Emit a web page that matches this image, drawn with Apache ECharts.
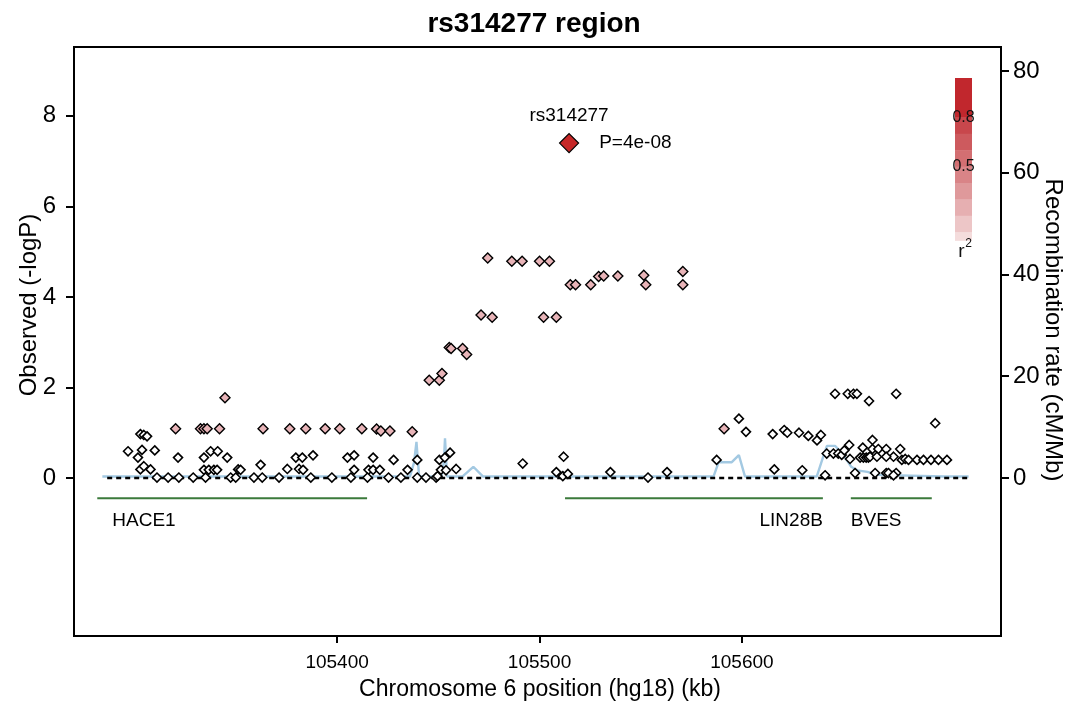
<!DOCTYPE html>
<html>
<head>
<meta charset="utf-8">
<script src="https://cdn.jsdelivr.net/npm/echarts@6/dist/echarts.min.js"></script>
<style>
html,body{margin:0;padding:0;background:#fff;}
#chart{width:1068px;height:704px;}
</style>
</head>
<body>
<div id="chart"></div>
<script>
// ---------------- data ----------------
const chartTitle = 'rs314277 region';
const xTicks = [105400, 105500, 105600];
const yTicks = [0, 2, 4, 6, 8];
const recTicks = [0, 20, 40, 60, 80];

// SNPs with weak LD (r2 < 0.2): [position kb, -log10 P]
const weakSnps = [
  [105296.7,0.59],[105302.8,0.97],[105304.5,0.95],[105306.1,0.92],[105303.6,0.62],[105309.9,0.61],
  [105301.6,0.45],[105321.4,0.45],[105334.2,0.45],[105337.5,0.59],[105341.0,0.59],[105345.7,0.45],
  [105302.8,0.19],[105304.5,0.26],[105307.8,0.19],[105351.1,0.19],[105352.3,0.18],[105362.2,0.29],
  [105334.2,0.18],[105336.6,0.18],[105339.1,0.18],[105340.7,0.18],
  [105311.0,0.01],[105316.5,0.01],[105321.8,0.01],[105328.9,0.01],[105335.0,0.01],[105347.4,0.01],
  [105349.9,0.01],[105358.9,0.01],[105363.0,0.01],[105371.3,0.01],[105375.4,0.20],[105379.6,0.45],
  [105382.8,0.45],[105388.1,0.50],[105381.2,0.20],[105383.2,0.18],[105387.0,0.01],
  [105405.1,0.45],[105408.4,0.50],[105417.8,0.45],[105427.9,0.40],[105439.6,0.40],[105450.5,0.40],
  [105453.2,0.45],[105455.8,0.56],[105408.4,0.18],[105415.5,0.18],[105417.8,0.18],
  [105421.1,0.18],[105434.8,0.18],[105451.3,0.18],[105453.8,0.17],[105458.8,0.20],
  [105397.4,0.01],[105406.8,0.01],[105415.0,0.01],[105425.4,0.01],[105431.5,0.01],[105439.6,0.01],
  [105443.9,0.01],[105448.9,0.01],[105449.6,0.04],
  [105491.7,0.32],[105508.3,0.13],[105511.5,0.04],[105514.0,0.09],[105511.9,0.47],[105535.0,0.13],
  [105553.6,0.01],[105563.0,0.13],
  [105598.5,1.31],[105602.0,1.02],[105615.2,0.97],[105620.9,1.06],[105622.4,1.00],[105628.2,1.00],
  [105632.8,0.93],[105639.0,0.95],[105637.1,0.83],[105646.0,1.86],[105587.5,0.40],[105616.0,0.19],
  [105629.8,0.17],[105641.1,0.06],[105641.9,0.54],[105645.2,0.54],[105647.6,0.54],
  [105652.3,1.86],[105655.1,1.86],[105656.8,1.86],[105662.8,1.70],[105676.2,1.86],[105695.5,1.21],
  [105649.3,0.51],[105650.6,0.61],[105653.0,0.73],[105653.4,0.42],[105655.9,0.11],[105658.4,0.45],
  [105660.0,0.45],[105661.4,0.45],[105662.5,0.45],[105663.3,0.47],[105659.7,0.67],[105664.5,0.84],
  [105664.5,0.64],[105667.4,0.64],[105671.3,0.64],[105674.9,0.47],[105678.2,0.64],[105666.7,0.47],
  [105671.3,0.47],[105679.0,0.40],[105680.7,0.42],[105682.3,0.40],[105686.5,0.40],[105689.7,0.40],
  [105693.4,0.40],[105697.1,0.40],[105701.3,0.40],[105665.8,0.11],[105671.3,0.11],[105672.4,0.11],
  [105676.2,0.11],[105674.9,0.06]
];

// SNPs with modest LD (r2 ~ 0.2-0.3)
const modestSnps = [
  [105344.6,1.77],[105320.2,1.09],[105332.5,1.09],[105334.2,1.09],[105335.8,1.09],[105341.9,1.09],
  [105363.4,1.09],[105376.6,1.09],[105384.5,1.09],[105394.1,1.09],[105401.3,1.09],[105412.2,1.09],
  [105419.5,1.08],[105421.6,1.04],[105426.1,1.04],[105437.1,1.02],
  [105445.5,2.16],[105450.5,2.16],[105451.8,2.31],[105455.4,2.88],[105456.3,2.86],[105462.0,2.86],
  [105464.0,2.73],[105471.1,3.60],[105476.6,3.55],[105502.0,3.55],[105508.3,3.55],
  [105474.4,4.86],[105486.3,4.79],[105491.4,4.79],[105500.0,4.79],[105504.9,4.79],
  [105515.2,4.27],[105517.8,4.27],[105525.3,4.27],[105529.2,4.45],[105531.7,4.46],[105538.7,4.46],
  [105551.5,4.48],[105552.5,4.27],[105570.8,4.56],[105570.8,4.27],[105591.2,1.09]
];

const leadSnpName = 'rs314277';
const leadSnpPos = 105514.6;
const leadSnpP = 4e-8;

// recombination rate (cM/Mb)
const recombPos  = [105284, 105436, 105438, 105439.2, 105440.5, 105451.5, 105452.7, 105453.3, 105454.3,
  105462, 105467.3, 105472, 105586, 105588.5, 105595, 105598.5, 105601.5, 105637, 105640, 105642,
  105646, 105648, 105651, 105654, 105657, 105662, 105667, 105700, 105712];
const recombRate = [0.3, 0.3, 3, 7.1, 0.3, 0.3, 3, 7.8, 0.3,
  0.3, 2.2, 0.3, 0.3, 3.1, 3.1, 4.5, 0.3, 0.3, 4, 6.3,
  6.3, 5.5, 4, 2.2, 1.5, 1.2, 0.6, 0.3, 0.3];

// baseline (-logP = 0)
const baselineRange = [105286.4, 105712.6];

// genes
const geneNames = ['HACE1', 'LIN28B', 'BVES'];
const geneStart = [105281.5, 105512.6, 105653.8];
const geneEnd   = [105414.8, 105640.0, 105693.8];

// r2 legend scale
const r2Labels = ['0.8', '0.5'];
const r2LabelValues = [0.8, 0.5];
const r2Steps = [1.04, 0.8, 0.7, 0.6, 0.5, 0.4, 0.3, 0.2, 0.1, 0.05];
const r2Colors = ['#c1272d', '#c8474c', '#cd5a5e', '#d36f72', '#d98487', '#df999b', '#e6afb1', '#edc6c7', '#f4dcdc'];

// ---------------- layout / style ----------------
const FONT = '"Liberation Sans", Arial, Helvetica, sans-serif';
const GRID = {left: 74, right: 67, top: 47, bottom: 68};
const Y_MIN = -3.49, Y_MAX = 9.52;
const R_MIN = -31.06, R_MAX = 84.7;
const X_MIN = 105270, X_MAX = 105728;
const GENE_Y = -0.45;
const LEAD_Y = -Math.log10(leadSnpP);

const chart = echarts.init(document.getElementById('chart'), null, {renderer: 'canvas'});

const geneSeries = geneNames.map((g, i) => ({
  type: 'line', yAxisIndex: 0, silent: true, z: 3,
  symbol: 'none',
  lineStyle: {color: '#3b7a3b', width: 2, opacity: 1},
  data: [[geneStart[i], GENE_Y], [geneEnd[i], GENE_Y]]
}));

const geneLabelData = geneNames.map((g, i) => {
  const right = (g === 'LIN28B');
  return {
    value: [right ? geneEnd[i] : geneStart[i], GENE_Y],
    label: {
      show: true, formatter: g, color: '#000',
      position: right ? 'left' : 'right',
      offset: right ? [0, 22] : [g === 'HACE1' ? 15 : 0, 22],
      distance: 0
    }
  };
});

// legend graphics
const LEG_X = 955, LEG_W = 17, LEG_TOP = 78, LEG_PX_PER = 164; // px per 1.0 r2
function r2ToY(r) { return LEG_TOP + (r2Steps[0] - r) * LEG_PX_PER; }
const legendGraphics = [];
for (let i = 0; i < r2Colors.length; i++) {
  const y0 = r2ToY(r2Steps[i]), y1 = r2ToY(r2Steps[i + 1]);
  legendGraphics.push({type: 'rect', shape: {x: LEG_X, y: y0, width: LEG_W, height: y1 - y0 + 0.5},
    style: {fill: r2Colors[i]}, silent: true});
}
r2Labels.forEach((t, i) => {
  legendGraphics.push({type: 'text', x: LEG_X + LEG_W / 2, y: r2ToY(r2LabelValues[i]),
    style: {text: t, font: '16px ' + FONT, fill: '#111', textAlign: 'center', textVerticalAlign: 'middle'}});
});
legendGraphics.push({type: 'text', x: LEG_X + LEG_W / 2 - 2, y: r2ToY(r2Steps[r2Steps.length - 1]) + 11,
  style: {text: 'r', font: '19px ' + FONT, fill: '#111', textAlign: 'center', textVerticalAlign: 'middle'}});
legendGraphics.push({type: 'text', x: LEG_X + LEG_W / 2 + 5, y: r2ToY(r2Steps[r2Steps.length - 1]) + 3,
  style: {text: '2', font: '12px ' + FONT, fill: '#111', textAlign: 'center', textVerticalAlign: 'middle'}});

const option = {
  animation: false,
  backgroundColor: '#fff',
  title: {
    text: chartTitle, left: 'center', top: 5,
    textStyle: {fontFamily: FONT, fontSize: 28, fontWeight: 'bold', color: '#000'}
  },
  grid: Object.assign({show: true, borderColor: '#000', borderWidth: 2, backgroundColor: 'transparent', containLabel: false}, GRID),
  xAxis: {
    type: 'value', min: X_MIN, max: X_MAX,
    axisLine: {onZero: false, lineStyle: {color: '#000', width: 2}},
    axisTick: {customValues: xTicks, length: 7, lineStyle: {color: '#000', width: 2}},
    axisLabel: {customValues: xTicks, fontFamily: FONT, fontSize: 19, color: '#000', margin: 17, formatter: v => String(v)},
    splitLine: {show: false}
  },
  yAxis: [
    {
      type: 'value', min: Y_MIN, max: Y_MAX, position: 'left',
      axisLine: {onZero: false, lineStyle: {color: '#000', width: 2}},
      axisTick: {customValues: yTicks, length: 8, lineStyle: {color: '#000', width: 2}},
      axisLabel: {customValues: yTicks, fontFamily: FONT, fontSize: 24, color: '#000', margin: 18, formatter: v => String(v)},
      splitLine: {show: false}
    },
    {
      type: 'value', min: R_MIN, max: R_MAX, position: 'right',
      axisLine: {onZero: false, lineStyle: {color: '#000', width: 2}},
      axisTick: {customValues: recTicks, length: 8, lineStyle: {color: '#000', width: 2}},
      axisLabel: {customValues: recTicks, fontFamily: FONT, fontSize: 24, color: '#000', margin: 12, formatter: v => String(v)},
      splitLine: {show: false}
    }
  ],
  graphic: [
    {type: 'text', x: 29, y: 305, rotation: Math.PI / 2,
      style: {text: 'Observed (-logP)', font: '24px ' + FONT, fill: '#000', textAlign: 'center', textVerticalAlign: 'middle'}},
    {type: 'text', x: 1053, y: 330, rotation: -Math.PI / 2,
      style: {text: 'Recombination rate (cM/Mb)', font: '24px ' + FONT, fill: '#000', textAlign: 'center', textVerticalAlign: 'middle'}},
    {type: 'text', x: 540, y: 690,
      style: {text: 'Chromosome 6 position (hg18) (kb)', font: '23px ' + FONT, fill: '#000', textAlign: 'center', textVerticalAlign: 'middle'}}
  ].concat(legendGraphics),
  series: [
    {
      type: 'line', yAxisIndex: 1, symbol: 'none', silent: true, z: 1,
      lineStyle: {color: '#a3c9e2', width: 2.4, opacity: 1},
      data: recombPos.map((p, i) => [p, recombRate[i]])
    },
    {
      type: 'line', yAxisIndex: 0, symbol: 'none', silent: true, z: 2,
      lineStyle: {color: '#000', width: 2.5, type: [5, 4], opacity: 1},
      data: [[baselineRange[0], 0], [baselineRange[1], 0]]
    }
  ].concat(geneSeries).concat([
    {
      type: 'scatter', yAxisIndex: 0, symbol: 'rect', symbolSize: 0, silent: true, z: 3,
      itemStyle: {opacity: 1},
      label: {fontFamily: FONT, fontSize: 19, color: '#000'},
      data: geneLabelData
    },
    {
      type: 'scatter', yAxisIndex: 0, symbol: 'diamond', symbolSize: 9, z: 4,
      itemStyle: {color: '#ffffff', borderColor: '#000', borderWidth: 1.6, opacity: 1},
      data: weakSnps
    },
    {
      type: 'scatter', yAxisIndex: 0, symbol: 'diamond', symbolSize: 10, z: 5,
      itemStyle: {color: '#e8b4b8', borderColor: '#000', borderWidth: 1.4, opacity: 1},
      data: modestSnps
    },
    {
      type: 'scatter', yAxisIndex: 0, symbol: 'diamond', symbolSize: 19, z: 6,
      itemStyle: {color: '#c62828', borderColor: '#000', borderWidth: 1.2, opacity: 1},
      label: {show: true, position: 'right', distance: 20, formatter: 'P=4e-08', fontFamily: FONT, fontSize: 19, color: '#000'},
      data: [[leadSnpPos, LEAD_Y]]
    },
    {
      type: 'scatter', yAxisIndex: 0, symbolSize: 0, silent: true, z: 6,
      itemStyle: {opacity: 1},
      label: {show: true, position: 'top', distance: 18, formatter: leadSnpName, fontFamily: FONT, fontSize: 19, color: '#000'},
      data: [[leadSnpPos, LEAD_Y]]
    }
  ])
};
chart.setOption(option);
</script>
</body>
</html>
